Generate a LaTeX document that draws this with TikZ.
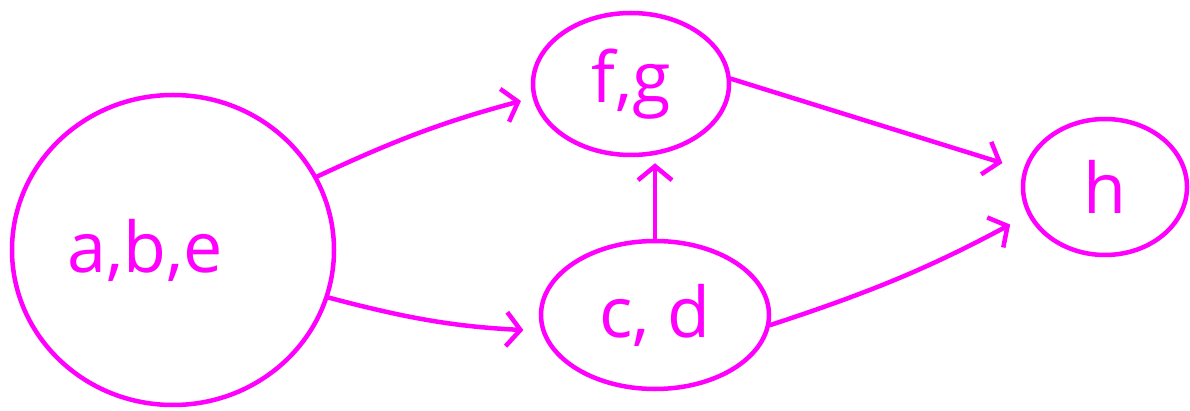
\documentclass[tikz,border=0pt]{standalone}
\usepackage{fontspec}
\setmainfont{Open Sans}
\usetikzlibrary{shapes.geometric,arrows.meta}
\definecolor{pen}{RGB}{255,0,255}
\begin{document}
\begin{tikzpicture}[x=1pt,y=-1pt,
  blob/.style={draw=pen,line width=4.5pt,ellipse,inner sep=0pt,text=pen,
    font=\fontsize{70}{70}\selectfont},
  link/.style={draw=pen,line width=4.5pt,line cap=round,
    -{Straight Barb[length=14pt,width=34pt,line width=4.5pt]}}]
\useasboundingbox (0,0) rectangle (1190,411);
\node[blob,minimum width=322pt,minimum height=310pt] (abe) at (173,250) {\hspace*{-55pt}a,b,e};
\node[blob,minimum width=196pt,minimum height=142pt] (fg) at (631,84) {f,g};
\node[blob,minimum width=228pt,minimum height=148pt] (cd) at (655,315) {c, d};
\node[blob,minimum width=164pt,minimum height=136pt] (h) at (1105,187) {h};
\draw[link,shorten >=12pt] (abe.27) to[bend left=5] (fg.188);
\draw[link,shorten >=18pt] (abe.-17) to[bend right=6] (cd.-172);
\draw[link,shorten >=6pt] (cd.north) -- (cd.north |- fg.south);
\draw[link,shorten >=22pt] (fg.3) -- (h.168);
\draw[link,shorten >=20pt] (cd.-5) to[bend right=5] (h.-160);
\end{tikzpicture}
\end{document}
